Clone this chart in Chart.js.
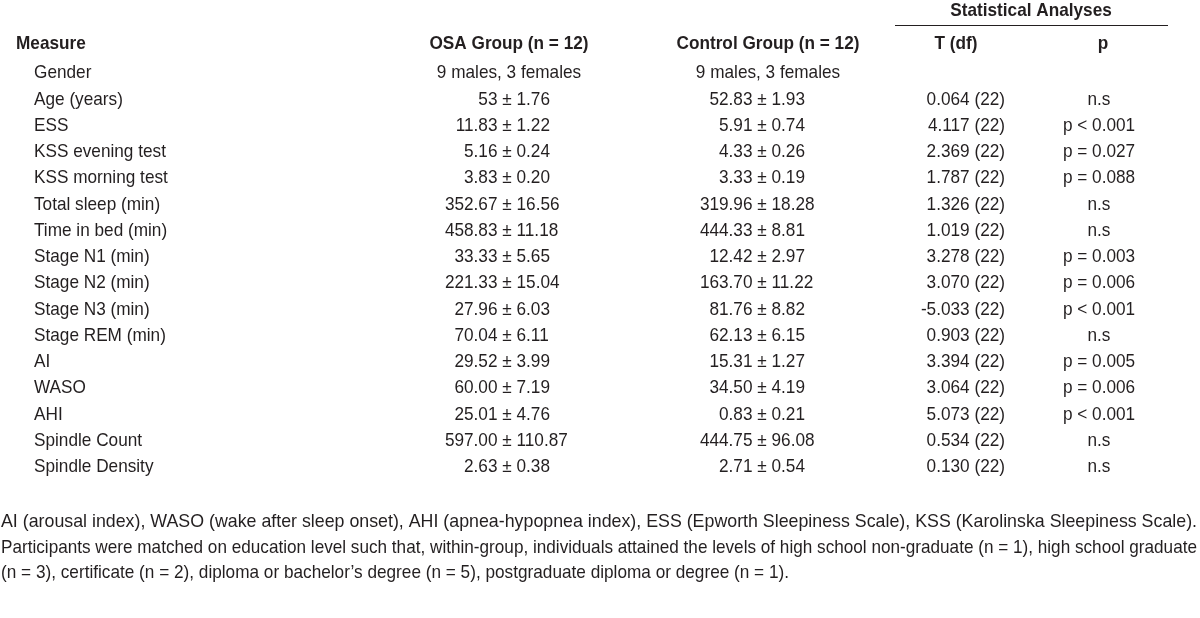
<!DOCTYPE html>
<html>
<head>
<meta charset="utf-8">
<script src="https://cdn.jsdelivr.net/npm/chart.js@4.4.1/dist/chart.umd.min.js"></script>
<style>
  html, body { margin: 0; padding: 0; background: #ffffff; }
  #wrap { width: 1200px; height: 618px; position: relative; }
</style>
</head>
<body>
<div id="wrap"><canvas id="c" width="1200" height="618"></canvas></div>
<script>
// ---------------- DATA ----------------
const measures = [
  'Gender', 'Age (years)', 'ESS', 'KSS evening test', 'KSS morning test',
  'Total sleep (min)', 'Time in bed (min)', 'Stage N1 (min)', 'Stage N2 (min)',
  'Stage N3 (min)', 'Stage REM (min)', 'AI', 'WASO', 'AHI', 'Spindle Count', 'Spindle Density'
];
const osaGroup = [
  '9 males, 3 females', '53 ± 1.76', '11.83 ± 1.22', '5.16 ± 0.24', '3.83 ± 0.20',
  '352.67 ± 16.56', '458.83 ± 11.18', '33.33 ± 5.65', '221.33 ± 15.04', '27.96 ± 6.03',
  '70.04 ± 6.11', '29.52 ± 3.99', '60.00 ± 7.19', '25.01 ± 4.76', '597.00 ± 110.87', '2.63 ± 0.38'
];
const controlGroup = [
  '9 males, 3 females', '52.83 ± 1.93', '5.91 ± 0.74', '4.33 ± 0.26', '3.33 ± 0.19',
  '319.96 ± 18.28', '444.33 ± 8.81', '12.42 ± 2.97', '163.70 ± 11.22', '81.76 ± 8.82',
  '62.13 ± 6.15', '15.31 ± 1.27', '34.50 ± 4.19', '0.83 ± 0.21', '444.75 ± 96.08', '2.71 ± 0.54'
];
const tValues = [
  '', '0.064 (22)', '4.117 (22)', '2.369 (22)', '1.787 (22)', '1.326 (22)', '1.019 (22)',
  '3.278 (22)', '3.070 (22)', '-5.033 (22)', '0.903 (22)', '3.394 (22)', '3.064 (22)',
  '5.073 (22)', '0.534 (22)', '0.130 (22)'
];
const pValues = [
  '', 'n.s', 'p < 0.001', 'p = 0.027', 'p = 0.088', 'n.s', 'n.s', 'p = 0.003', 'p = 0.006',
  'p < 0.001', 'n.s', 'p = 0.005', 'p = 0.006', 'p < 0.001', 'n.s', 'n.s'
];
const columnHeaders = ['Measure', 'OSA Group (n = 12)', 'Control Group (n = 12)', 'T (df)', 'p'];
const spanHeader = 'Statistical Analyses';
const footnoteLines = [
  'AI (arousal index), WASO (wake after sleep onset), AHI (apnea-hypopnea index), ESS (Epworth Sleepiness Scale), KSS (Karolinska Sleepiness Scale).',
  'Participants were matched on education level such that, within-group, individuals attained the levels of high school non-graduate (n = 1), high school graduate',
  '(n = 3), certificate (n = 2), diploma or bachelor\u2019s degree (n = 5), postgraduate diploma or degree (n = 1).'
];

// ---------------- LAYOUT / STYLE ----------------
const layout = {
  fontSize: 19,
  color: '#231f20',
  measureHeaderX: 16,
  measureX: 34,
  osaCenter: 509, osaPM: 507,
  ctrlCenter: 768, ctrlPM: 762,
  tRight: 1005, tCenter: 956,
  pCenter: 1099, pHeaderCenter: 1103,
  spanCenter: 1031, spanLineX0: 895, spanLineX1: 1168,
  headerOffset: 16, spanOffset: 49, spanLineOffset: 35,
  footFirst: 42, footPitch: 25.5,
  footLeft: 1, footRight: 1197, tableLine3Width: 788
};

function fontAvailable(name) {
  const c = document.createElement('canvas').getContext('2d');
  const s = 'abcdefghijklmnopqrstuvwxyz0123456789';
  c.font = '20px monospace';
  const w0 = c.measureText(s).width;
  c.font = '20px "' + name + '", monospace';
  return Math.abs(c.measureText(s).width - w0) > 0.5;
}
const family = fontAvailable('Liberation Sans Narrow') ? '"Liberation Sans Narrow"' : '"Liberation Sans", Arial, sans-serif';

const tablePlugin = {
  id: 'tableText',
  afterDraw(chart) {
    const ctx = chart.ctx;
    const yS = chart.scales.y;
    const area = chart.chartArea;
    const L = layout;
    const fReg = L.fontSize + 'px ' + family;
    const fBold = 'bold ' + L.fontSize + 'px ' + family;

    function rawWidth(s, bold) {
      ctx.save();
      ctx.font = bold ? fBold : fReg;
      const w = ctx.measureText(s).width;
      ctx.restore();
      return w;
    }
    const hsTable = L.tableLine3Width / rawWidth(footnoteLines[2]);
    let hs = hsTable;

    function txt(s, x, y, align, bold) {
      ctx.save();
      ctx.font = bold ? fBold : fReg;
      ctx.fillStyle = L.color;
      ctx.textBaseline = 'middle';
      ctx.textAlign = align;
      ctx.translate(x, y);
      ctx.scale(hs, 1);
      ctx.fillText(s, 0, 0);
      ctx.restore();
    }
    function width(s, bold) { return rawWidth(s, bold) * hs; }
    function pm(s, anchor, y, center) {
      const parts = s.split(' ± ');
      if (parts.length !== 2) { txt(s, center, y, 'center'); return; }
      const half = width('±') / 2, sp = width(' ');
      txt(parts[0], anchor - half - sp, y, 'right');
      txt('±', anchor, y, 'center');
      txt(parts[1], anchor + half + sp, y, 'left');
    }

    // span header + rule
    const top = area.top;
    txt(spanHeader, L.spanCenter, top - L.spanOffset, 'center', true);
    ctx.save();
    ctx.strokeStyle = L.color;
    ctx.lineWidth = 1;
    ctx.beginPath();
    const ly = Math.round(top - L.spanLineOffset) + 0.5;
    ctx.moveTo(L.spanLineX0, ly);
    ctx.lineTo(L.spanLineX1, ly);
    ctx.stroke();
    ctx.restore();

    // column headers
    const hy = top - L.headerOffset;
    txt(columnHeaders[0], L.measureHeaderX, hy, 'left', true);
    txt(columnHeaders[1], L.osaCenter, hy, 'center', true);
    txt(columnHeaders[2], L.ctrlCenter, hy, 'center', true);
    txt(columnHeaders[3], L.tCenter, hy, 'center', true);
    txt(columnHeaders[4], L.pHeaderCenter, hy, 'center', true);

    // rows
    measures.forEach((m, i) => {
      const y = yS.getPixelForValue(i);
      txt(m, L.measureX, y, 'left');
      pm(osaGroup[i], L.osaPM, y, L.osaCenter);
      pm(controlGroup[i], L.ctrlPM, y, L.ctrlCenter);
      if (tValues[i]) txt(tValues[i], L.tRight, y, 'right');
      if (pValues[i]) txt(pValues[i], L.pCenter, y, 'center');
    });

    // footnote: full lines fitted to the text block width, last line natural
    footnoteLines.forEach((line, k) => {
      const y = area.bottom + L.footFirst + k * L.footPitch;
      if (k === footnoteLines.length - 1) {
        hs = hsTable;
      } else {
        hs = (L.footRight - L.footLeft) / rawWidth(line);
      }
      txt(line, L.footLeft, y, 'left');
    });
  }
};

new Chart(document.getElementById('c'), {
  type: 'scatter',
  data: { labels: measures, datasets: [] },
  options: {
    responsive: false,
    animation: false,
    events: [],
    layout: { padding: { top: 60, bottom: 138, left: 0, right: 0 } },
    plugins: { legend: { display: false }, tooltip: { enabled: false } },
    scales: {
      x: { type: 'linear', display: false, min: 0, max: 1 },
      y: { type: 'category', labels: measures, offset: true, display: false }
    }
  },
  plugins: [tablePlugin]
});
</script>
</body>
</html>
